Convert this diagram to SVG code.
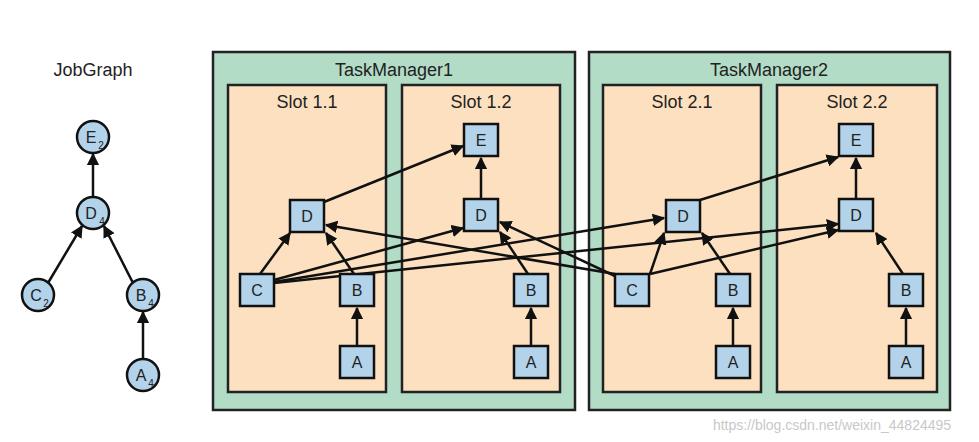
<svg xmlns="http://www.w3.org/2000/svg" width="979" height="442" viewBox="0 0 979 442">
<style>
text{font-family:"Liberation Sans",Arial,sans-serif;fill:#222;text-anchor:middle}
.tm{fill:#b2dcc6;stroke:#222;stroke-width:2.5}
.sl{fill:#fde0bf;stroke:#222;stroke-width:2.5}
.n{fill:#b3d3ea;stroke:#111;stroke-width:2.5}
.t{font-size:16px}
.h{font-size:18px}
.c line{stroke:#111;stroke-width:2.5;marker-end:url(#a)}
</style>
<defs><marker id="a" viewBox="0 0 10 10" refX="9" refY="5" markerWidth="5" markerHeight="5" orient="auto" markerUnits="strokeWidth"><path d="M0,0L10,5L0,10z" fill="#111"/></marker></defs>
<rect width="979" height="442" fill="#fff"/>
<text class="h" x="93" y="76">JobGraph</text>
<g id="tm1"><rect class="tm" x="213" y="52" width="362" height="358"/><text class="h" x="394" y="76">TaskManager1</text></g>
<g id="tm2"><rect class="tm" x="589" y="52" width="361" height="358"/><text class="h" x="769" y="76">TaskManager2</text></g>
<g id="s11"><rect class="sl" x="228" y="85" width="158" height="307"/><text class="h" x="307" y="108">Slot 1.1</text></g>
<g id="s12"><rect class="sl" x="402" y="85" width="158" height="307"/><text class="h" x="481" y="108">Slot 1.2</text></g>
<g id="s21"><rect class="sl" x="603" y="85" width="158" height="307"/><text class="h" x="682" y="108">Slot 2.1</text></g>
<g id="s22"><rect class="sl" x="777" y="85" width="160" height="307"/><text class="h" x="857" y="108">Slot 2.2</text></g>
<g class="c" id="connectors">
<line x1="93" y1="198" x2="93" y2="154"/>
<line x1="48" y1="283" x2="82" y2="226"/>
<line x1="133" y1="283" x2="104" y2="226"/>
<line x1="143" y1="360" x2="143" y2="312"/>
<line x1="324" y1="202" x2="463" y2="146"/>
<line x1="260" y1="274" x2="290" y2="233"/>
<line x1="354" y1="274" x2="326" y2="233"/>
<line x1="357" y1="346" x2="357" y2="308"/>
<line x1="274" y1="280" x2="463" y2="228"/>
<line x1="274" y1="282" x2="664" y2="218"/>
<line x1="274" y1="283" x2="838" y2="224"/>
<line x1="481" y1="199" x2="481" y2="158"/>
<line x1="528" y1="274" x2="500" y2="232"/>
<line x1="531" y1="346" x2="531" y2="308"/>
<line x1="615" y1="274" x2="326" y2="225"/>
<line x1="615" y1="276" x2="500" y2="222"/>
<line x1="650" y1="274" x2="664" y2="233"/>
<line x1="650" y1="274" x2="838" y2="230"/>
<line x1="730" y1="274" x2="702" y2="233"/>
<line x1="733" y1="346" x2="733" y2="308"/>
<line x1="700" y1="200" x2="838" y2="157"/>
<line x1="856" y1="199" x2="856" y2="158"/>
<line x1="903" y1="274" x2="876" y2="233"/>
<line x1="906" y1="346" x2="906" y2="308"/>
</g>
<g id="jE"><circle class="n" cx="93" cy="137" r="16"/><text class="t" x="91" y="143">E</text><text x="101" y="149" font-size="10">2</text></g>
<g id="jD"><circle class="n" cx="93" cy="213" r="16"/><text class="t" x="91" y="219">D</text><text x="102" y="225" font-size="10">4</text></g>
<g id="jC"><circle class="n" cx="38" cy="295" r="16"/><text class="t" x="36" y="301">C</text><text x="46" y="307" font-size="10">2</text></g>
<g id="jB"><circle class="n" cx="143" cy="295" r="16"/><text class="t" x="141" y="301">B</text><text x="151" y="307" font-size="10">4</text></g>
<g id="jA"><circle class="n" cx="143" cy="375" r="16"/><text class="t" x="141" y="381">A</text><text x="151" y="387" font-size="10">4</text></g>
<g id="n11D"><rect class="n" x="290" y="200" width="34" height="32"/><text class="t" x="307" y="222">D</text></g>
<g id="n11C"><rect class="n" x="240" y="274" width="34" height="32"/><text class="t" x="257" y="296">C</text></g>
<g id="n11B"><rect class="n" x="340" y="274" width="34" height="32"/><text class="t" x="357" y="296">B</text></g>
<g id="n11A"><rect class="n" x="340" y="346" width="34" height="32"/><text class="t" x="357" y="368">A</text></g>
<g id="n12E"><rect class="n" x="464" y="124" width="34" height="32"/><text class="t" x="481" y="146">E</text></g>
<g id="n12D"><rect class="n" x="464" y="199" width="34" height="32"/><text class="t" x="481" y="221">D</text></g>
<g id="n12B"><rect class="n" x="514" y="274" width="34" height="32"/><text class="t" x="531" y="296">B</text></g>
<g id="n12A"><rect class="n" x="514" y="346" width="34" height="32"/><text class="t" x="531" y="368">A</text></g>
<g id="n21D"><rect class="n" x="666" y="200" width="34" height="32"/><text class="t" x="683" y="222">D</text></g>
<g id="n21C"><rect class="n" x="615" y="274" width="34" height="32"/><text class="t" x="632" y="296">C</text></g>
<g id="n21B"><rect class="n" x="716" y="274" width="34" height="32"/><text class="t" x="733" y="296">B</text></g>
<g id="n21A"><rect class="n" x="716" y="346" width="34" height="32"/><text class="t" x="733" y="368">A</text></g>
<g id="n22E"><rect class="n" x="839" y="124" width="34" height="32"/><text class="t" x="856" y="146">E</text></g>
<g id="n22D"><rect class="n" x="839" y="199" width="34" height="32"/><text class="t" x="856" y="221">D</text></g>
<g id="n22B"><rect class="n" x="889" y="274" width="34" height="32"/><text class="t" x="906" y="296">B</text></g>
<g id="n22A"><rect class="n" x="889" y="346" width="34" height="32"/><text class="t" x="906" y="368">A</text></g>
<text x="832" y="430" font-size="14" fill="#ccc" style="fill:#c8c8c8">https://blog.csdn.net/weixin_44824495</text>
</svg>
